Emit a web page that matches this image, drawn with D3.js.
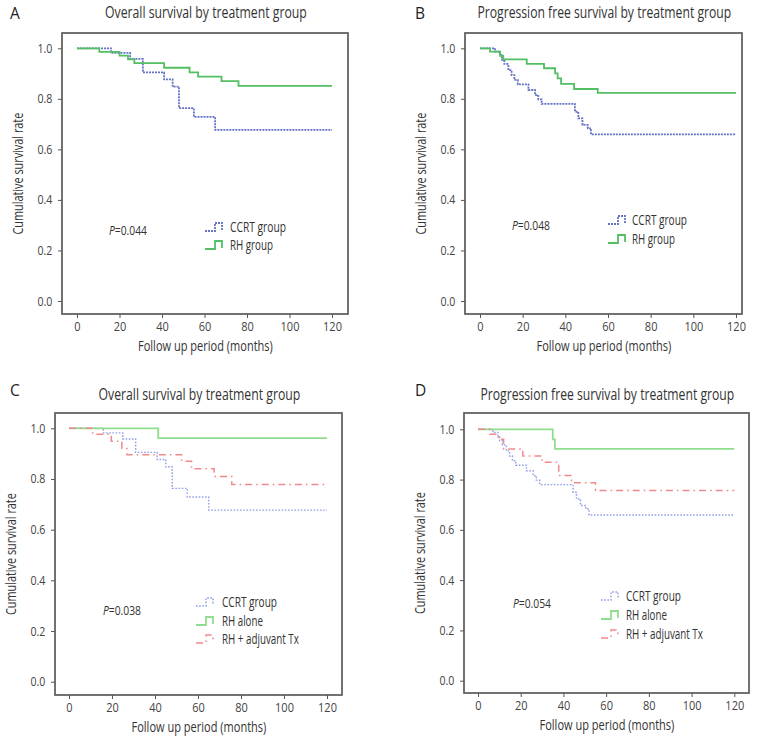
<!DOCTYPE html>
<html><head><meta charset="utf-8">
<script src="https://cdn.jsdelivr.net/npm/d3@7"></script>
<style>
body{margin:0;background:#fff;}
svg text{font-family:"Open Sans","Noto Sans",sans-serif;fill:#333;}
</style></head><body><svg id="c" width="759" height="741"></svg>
<script>
// ---- data (months, cumulative survival) ----
const xTicks = [0, 20, 40, 60, 80, 100, 120];
const yTicks = [0, 0.2, 0.4, 0.6, 0.8, 1.0];

const ccrtOS = [[0,1],[16,0.982],[25,0.958],[31,0.905],[41,0.877],[45,0.848],[48,0.763],[55,0.729],[65,0.677],[120,0.677]];
const rhOS = [[0,1],[10.5,0.986],[20,0.971],[24,0.956],[27,0.941],[41,0.923],[53,0.905],[57,0.888],[68,0.870],[76,0.851],[120,0.851]];
const ccrtPFS = [[0,1],[7,0.987],[9.4,0.973],[10.2,0.954],[11.4,0.938],[13.3,0.914],[14.8,0.894],[16.1,0.875],[17.7,0.857],[22.7,0.835],[25.8,0.815],[27.3,0.798],[28.9,0.780],[44.5,0.749],[46.1,0.723],[48,0.697],[50.5,0.683],[52,0.659],[120,0.659]];
const rhPFS = [[0,1],[4.7,0.987],[9.4,0.970],[10.9,0.956],[21.9,0.938],[30,0.921],[35.2,0.901],[36.4,0.881],[38,0.859],[44.1,0.839],[55.2,0.824],[120,0.824]];
const rhAloneOS = [[0,1],[41.5,0.961],[120,0.961]];
const rhAdjOS = [[0,1],[11,0.977],[19.7,0.949],[24.6,0.920],[27,0.896],[52.4,0.870],[57,0.840],[67.5,0.810],[75.7,0.778],[120,0.778]];
const rhAlonePFS = [[0,1],[35,0.960],[36,0.922],[120,0.922]];
const rhAdjPFS = [[0,1],[5.5,0.980],[9.5,0.960],[12,0.922],[21,0.894],[30,0.869],[37.8,0.816],[43.8,0.787],[55,0.757],[120,0.757]];

const pValues = ["0.044", "0.048", "0.038", "0.054"];
const titles = ["Overall survival by treatment group", "Progression free survival by treatment group",
                "Overall survival by treatment group", "Progression free survival by treatment group"];
const letters = ["A", "B", "C", "D"];

// ---- styles ----
const st = {
  ccrtDark: {stroke:"#6472c4", dash:"2,1", width:1.8},
  rhDark:   {stroke:"#52bf62", dash:null, width:1.8},
  ccrtLight:{stroke:"#8f9ee6", dash:"1.6,1.6", width:1.4},
  rhLight:  {stroke:"#8fde8f", dash:null, width:1.8},
  adj:      {stroke:"#f08a8a", dash:"7,4,1.6,4", width:1.5}
};

const panels = [
  {letter:letters[0], title:titles[0], p:pValues[0], tw:202,
   box:[62,33,348,314], xr:[77,332], yr:[301,48.3], letterPos:[10,19], titleY:18,
   series:[{name:"CCRT group",data:ccrtOS,s:st.ccrtDark,w:56},{name:"RH group",data:rhOS,s:st.rhDark,w:43}],
   pPos:[109,235], leg:{x:205, tx:230, ys:[227,245]}},
  {letter:letters[1], title:titles[1], p:pValues[1], tw:254,
   box:[465,33,742,314], xr:[480,736], yr:[301,48.3], letterPos:[415,19], titleY:18,
   series:[{name:"CCRT group",data:ccrtPFS,s:st.ccrtDark,w:55},{name:"RH group",data:rhPFS,s:st.rhDark,w:43}],
   pPos:[512,230], leg:{x:608, tx:632, ys:[220,239]}},
  {letter:letters[2], title:titles[2], p:pValues[2], tw:202,
   box:[55,413,342,695], xr:[69,327], yr:[681.7,428.3], letterPos:[10,396], titleY:400,
   series:[{name:"CCRT group",data:ccrtOS,s:st.ccrtLight,w:55},{name:"RH alone",data:rhAloneOS,s:st.rhLight,w:41},{name:"RH + adjuvant Tx",data:rhAdjOS,s:st.adj,w:77}],
   pPos:[103,615], leg:{x:196, tx:222, ys:[602,621,639]}},
  {letter:letters[3], title:titles[3], p:pValues[3], tw:254,
   box:[464,413,749,693], xr:[478,734.3], yr:[680.7,429.3], letterPos:[415,396], titleY:400,
   series:[{name:"CCRT group",data:ccrtPFS,s:st.ccrtLight,w:55},{name:"RH alone",data:rhAlonePFS,s:st.rhLight,w:41},{name:"RH + adjuvant Tx",data:rhAdjPFS,s:st.adj,w:77}],
   pPos:[513,608], leg:{x:601, tx:626, ys:[596,615,634]}}
];

const svg = d3.select("#c");
const fmt = d3.format(".1f");

// Draw a text starting at (x,y) squeezed horizontally to width w (via transform)
function fitText(parent, x, y, w, size, str, rot) {
  const t = parent.append("text").attr("x", 0).attr("y", 0).attr("font-size", size).text(str);
  const n = t.node().getComputedTextLength();
  t.attr("transform", `translate(${x},${y})${rot ? " rotate(-90)" : ""} scale(${w / n},1)`);
  return t;
}

panels.forEach(P => {
  const g = svg.append("g");
  const [bx0, by0, bx1, by1] = P.box;
  const x = d3.scaleLinear().domain([0,120]).range(P.xr);
  const y = d3.scaleLinear().domain([0,1]).range(P.yr);
  const cx = (bx0 + bx1) / 2;

  g.append("text").attr("x", P.letterPos[0]).attr("y", P.letterPos[1])
    .attr("font-size", 15.5).style("fill","#222").text(P.letter);
  fitText(g, cx - P.tw/2 + 1, P.titleY, P.tw, 15.5, P.title);

  // frame
  g.append("rect").attr("x", bx0).attr("y", by0).attr("width", bx1-bx0).attr("height", by1-by0)
    .attr("fill","none").attr("stroke","#5a5a5a").attr("stroke-width",1.7);

  // axes
  const ya = g.append("g").attr("transform", `translate(${bx0},0)`)
    .call(d3.axisLeft(y).tickValues(yTicks).tickFormat(fmt).tickSize(4).tickPadding(3));
  const xa = g.append("g").attr("transform", `translate(0,${by1})`)
    .call(d3.axisBottom(x).tickValues(xTicks).tickSize(4).tickPadding(4));
  [ya, xa].forEach(a => {
    a.select(".domain").remove();
    a.selectAll("line").attr("stroke","#555");
    a.selectAll("text").attr("font-size",12.5).style("fill","#444").style("font-family","'Open Sans',sans-serif");
  });
  ya.selectAll(".tick text").attr("x", -3).attr("transform", "translate(-7,0) scale(0.85,1)");
  xa.selectAll(".tick text").attr("x", 0).attr("transform", "scale(0.88,1)");

  fitText(g, cx - 67, by1 + 37, 135, 14.5, "Follow up period (months)");
  fitText(g, bx0 - 39, (by0 + by1) / 2 + 61, 122, 14.5, "Cumulative survival rate", true);

  // curves
  const line = d3.line().x(d => x(d[0])).y(d => y(d[1])).curve(d3.curveStepAfter);
  P.series.forEach(s => {
    g.append("path").datum(s.data).attr("d", line).attr("fill","none")
      .attr("stroke", s.s.stroke).attr("stroke-width", s.s.width)
      .attr("stroke-dasharray", s.s.dash);
  });

  // p value
  const pt = g.append("text").attr("x", 0).attr("y", 0).attr("font-size", 13.5);
  pt.append("tspan").attr("font-style","italic").text("P");
  pt.append("tspan").text("=" + P.p);
  const pn = pt.node().getComputedTextLength();
  pt.attr("transform", `translate(${P.pPos[0]},${P.pPos[1]}) scale(${38 / pn},1)`);

  // legend
  P.series.forEach((s, i) => {
    const ly = P.leg.ys[i];
    g.append("path").attr("d", `M${P.leg.x},${ly+4} H${P.leg.x+10} V${ly-4} H${P.leg.x+17} V${ly+3}`)
      .attr("fill","none").attr("stroke", s.s.stroke).attr("stroke-width", s.s.width)
      .attr("stroke-dasharray", s.s.dash);
    fitText(g, P.leg.tx, ly + 5, s.w, 14, s.name);
  });
});
</script></body></html>
